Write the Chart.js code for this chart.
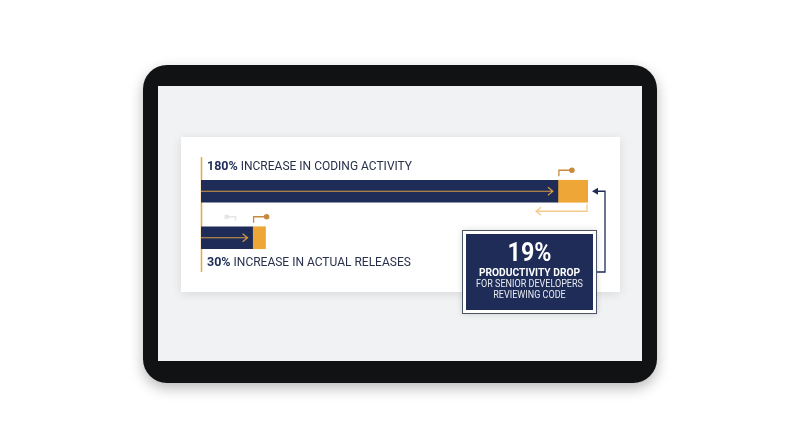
<!DOCTYPE html>
<html>
<head>
<meta charset="utf-8">
<script src="https://cdn.jsdelivr.net/npm/chart.js@4.4.1/dist/chart.umd.min.js"></script>
<style>
  html, body { margin: 0; padding: 0; background: #ffffff; }
  #wrap { width: 800px; height: 447px; }
</style>
</head>
<body>
<div id="wrap"><canvas id="grafico" width="800" height="447"></canvas></div>
<script>
// datos del grafico
const categories = ['Coding activity', 'Actual releases'];
const baseValues = [166, 24];
const gainValues = [14, 6];
const totalLabels = ['180%', '30%'];
const labelTexts = [' INCREASE IN CODING ACTIVITY', ' INCREASE IN ACTUAL RELEASES'];
const dropValue = '19%';
const dropLines = ['PRODUCTIVITY DROP', 'FOR SENIOR DEVELOPERS', 'REVIEWING CODE'];

const NAVY = '#1e2c57';
const GOLD = '#eea637';
const FONT = 'Roboto, "Open Sans", sans-serif';

function roundRect(ctx, x, y, w, h, r) {
    ctx.beginPath();
    ctx.moveTo(x + r, y);
    ctx.arcTo(x + w, y, x + w, y + h, r);
    ctx.arcTo(x + w, y + h, x, y + h, r);
    ctx.arcTo(x, y + h, x, y, r);
    ctx.arcTo(x, y, x + w, y, r);
    ctx.closePath();
}

// texto centrado y algo estrecho
function textoEstrecho(ctx, txt, cx, y, escala) {
    ctx.save();
    ctx.translate(cx, y);
    ctx.scale(escala, 1);
    ctx.fillText(txt, 0, 0);
    ctx.restore();
}

// fondo: tablet, pantalla y tarjeta
const fondoPlugin = {
    id: 'fondo',
    beforeDatasetsDraw(chart) {
        const ctx = chart.ctx;
        const area = chart.chartArea;
        ctx.save();
        ctx.shadowColor = 'rgba(0,0,0,0.28)';
        ctx.shadowBlur = 14;
        ctx.shadowOffsetY = 5;
        roundRect(ctx, 143, 65, 514, 318, 24);
        ctx.fillStyle = '#111214';
        ctx.fill();
        ctx.restore();

        ctx.save();
        ctx.fillStyle = '#f1f2f3';
        ctx.fillRect(158, 86, 484, 275);

        ctx.shadowColor = 'rgba(0,0,0,0.10)';
        ctx.shadowBlur = 10;
        ctx.shadowOffsetY = 2;
        ctx.fillStyle = '#ffffff';
        ctx.fillRect(181, 137, 439, 155);
        ctx.restore();

        ctx.save();
        ctx.strokeStyle = GOLD;
        ctx.lineWidth = 1.5;
        ctx.beginPath();
        ctx.moveTo(area.left + 0.5, 157);
        ctx.lineTo(area.left + 0.5, 272);
        ctx.stroke();
        ctx.restore();
    },
    afterDatasetsDraw(chart) {
        const ctx = chart.ctx;
        const area = chart.chartArea;
        const navyMeta = chart.getDatasetMeta(0).data;
        const goldMeta = chart.getDatasetMeta(1).data;
        ctx.save();

        // flechas dentro de las barras
        navyMeta.forEach(function (bar) {
            const y = bar.y;
            const end = bar.x - 5;
            ctx.strokeStyle = '#d69a45';
            ctx.lineWidth = 1.2;
            ctx.beginPath();
            ctx.moveTo(area.left, y);
            ctx.lineTo(end, y);
            ctx.moveTo(end - 5, y - 4);
            ctx.lineTo(end, y);
            ctx.lineTo(end - 5, y + 4);
            ctx.stroke();
        });

        // marcadores sobre el segmento dorado
        goldMeta.forEach(function (bar, i) {
            const top = bar.y - bar.height / 2;
            const x0 = bar.base + 1;
            const yTop = top - 10;
            ctx.strokeStyle = '#c98a3e';
            ctx.lineWidth = 1.3;
            ctx.beginPath();
            ctx.moveTo(x0, top - 4);
            ctx.lineTo(x0, yTop);
            ctx.lineTo(x0 + 12, yTop);
            ctx.stroke();
            ctx.fillStyle = '#c98a3e';
            ctx.beginPath();
            ctx.arc(x0 + 13, yTop, 2.8, 0, Math.PI * 2);
            ctx.fill();
            if (i === 1) {
                ctx.strokeStyle = '#e6e6e6';
                ctx.lineWidth = 1.5;
                ctx.beginPath();
                ctx.moveTo(x0 - 26, yTop);
                ctx.lineTo(x0 - 18, yTop);
                ctx.lineTo(x0 - 18, yTop + 4);
                ctx.stroke();
                ctx.fillStyle = '#e4e4e4';
                ctx.fillRect(x0 - 29, yTop - 2, 4, 4);
            }
        });

        // flecha de retorno bajo la barra superior
        const g0 = goldMeta[0];
        const bottom0 = g0.y + g0.height / 2;
        ctx.strokeStyle = '#f3ca8e';
        ctx.lineWidth = 1.3;
        ctx.beginPath();
        ctx.moveTo(g0.x - 1, bottom0 + 2);
        ctx.lineTo(g0.x - 1, bottom0 + 9);
        ctx.lineTo(g0.x - 52, bottom0 + 9);
        ctx.moveTo(g0.x - 47, bottom0 + 5);
        ctx.lineTo(g0.x - 52, bottom0 + 9);
        ctx.lineTo(g0.x - 47, bottom0 + 13);
        ctx.stroke();

        // etiquetas
        ctx.textBaseline = 'middle';
        ctx.textAlign = 'left';
        navyMeta.forEach(function (bar, i) {
            const y = i === 0 ? bar.y - bar.height / 2 - 13 : bar.y + bar.height / 2 + 14;
            const x = area.left + 6;
            ctx.fillStyle = NAVY;
            ctx.font = 'bold 12.5px ' + FONT;
            ctx.fillText(totalLabels[i], x, y);
            const w = ctx.measureText(totalLabels[i]).width;
            ctx.fillStyle = '#28304a';
            ctx.font = '12.5px ' + FONT;
            textoEstrecho(ctx, labelTexts[i], x + w, y, 0.96);
        });

        // recuadro del 19%
        const bx = 462, by = 230, bw = 135, bh = 84;
        ctx.save();
        ctx.shadowColor = 'rgba(0,0,0,0.15)';
        ctx.shadowBlur = 6;
        ctx.fillStyle = '#ffffff';
        ctx.fillRect(bx, by, bw, bh);
        ctx.restore();
        ctx.strokeStyle = '#4c5466';
        ctx.lineWidth = 1;
        ctx.strokeRect(bx + 0.5, by + 0.5, bw - 1, bh - 1);
        ctx.fillStyle = NAVY;
        ctx.fillRect(bx + 4, by + 4, bw - 8, bh - 8);

        const cx = bx + bw / 2;
        ctx.textAlign = 'center';
        ctx.fillStyle = '#ffffff';
        ctx.font = 'bold 25px ' + FONT;
        textoEstrecho(ctx, dropValue, cx, by + 25, 0.93);
        ctx.font = 'bold 11.5px ' + FONT;
        textoEstrecho(ctx, dropLines[0], cx, by + 43, 0.89);
        ctx.font = '11px ' + FONT;
        ctx.fillStyle = '#e8ebf2';
        textoEstrecho(ctx, dropLines[1], cx, by + 54.5, 0.82);
        textoEstrecho(ctx, dropLines[2], cx, by + 65.5, 0.82);

        // conector hacia la barra superior
        const ax = g0.x + 4;
        ctx.strokeStyle = NAVY;
        ctx.lineWidth = 1.3;
        ctx.beginPath();
        ctx.moveTo(bx + bw, by + 42);
        ctx.lineTo(605, by + 42);
        ctx.lineTo(605, g0.y);
        ctx.lineTo(ax + 5, g0.y);
        ctx.stroke();
        ctx.fillStyle = NAVY;
        ctx.beginPath();
        ctx.moveTo(ax, g0.y);
        ctx.lineTo(ax + 6, g0.y - 3.5);
        ctx.lineTo(ax + 6, g0.y + 3.5);
        ctx.closePath();
        ctx.fill();

        ctx.restore();
    }
};

const ctx = document.getElementById('grafico').getContext('2d');
new Chart(ctx, {
    type: 'bar',
    data: {
        labels: categories,
        datasets: [{
            label: 'Base',
            data: baseValues,
            backgroundColor: NAVY,
            borderWidth: 0,
            barThickness: 22
        }, {
            label: 'Gain',
            data: gainValues,
            backgroundColor: GOLD,
            borderWidth: 0,
            barThickness: 22
        }]
    },
    options: {
        indexAxis: 'y',
        responsive: false,
        animation: false,
        layout: {
            padding: { left: 201, right: 212, top: 168, bottom: 186 }
        },
        plugins: {
            legend: { display: false },
            tooltip: { enabled: false }
        },
        scales: {
            x: { stacked: true, display: false, min: 0, max: 180 },
            y: { stacked: true, display: false }
        }
    },
    plugins: [fondoPlugin]
});
</script>
</body>
</html>
